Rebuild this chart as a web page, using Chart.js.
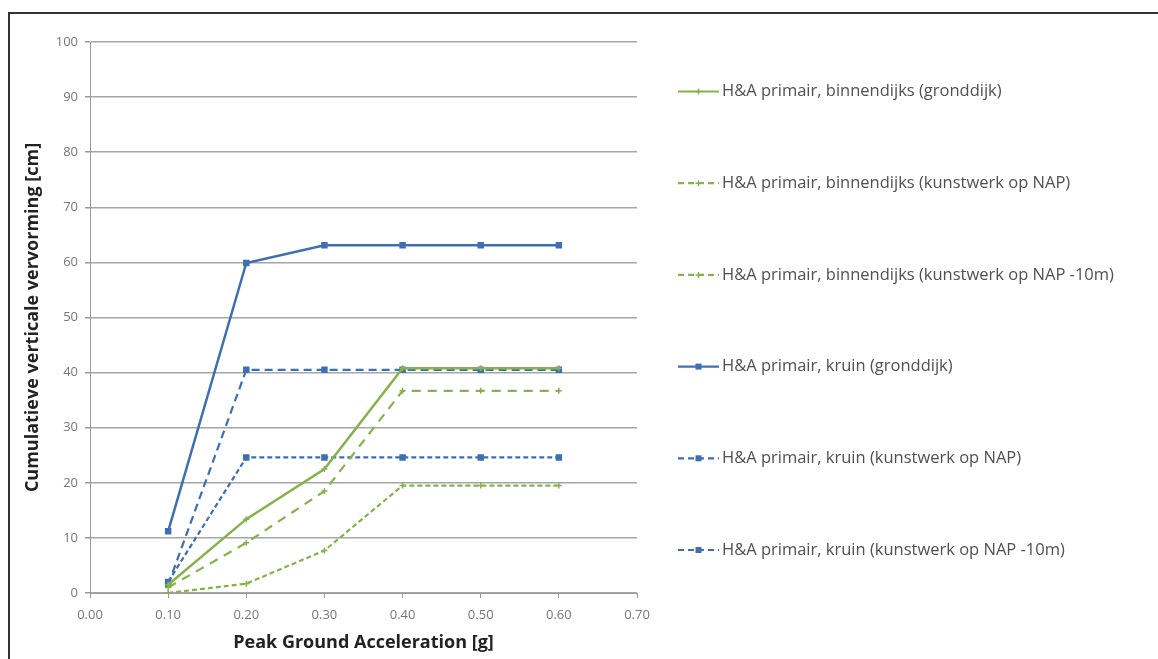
<!DOCTYPE html>
<html>
<head>
<meta charset="utf-8">
<script src="https://cdn.jsdelivr.net/npm/chart.js@4.4.1/dist/chart.umd.min.js"></script>
<style>
  html, body { margin: 0; padding: 0; background: #fff; }
  #wrap { position: relative; width: 1158px; height: 659px; overflow: hidden; }
  #frame { position: absolute; left: 8px; top: 12px; width: 1200px; height: 700px; border: 2px solid #333; box-sizing: border-box; }
  #cv { position: absolute; left: 0; top: 0; }
</style>
</head>
<body>
<div id="wrap">
  <div id="frame"></div>
  <canvas id="cv" width="1158" height="659"></canvas>
</div>
<script>
// data
const pga = [0.10, 0.20, 0.30, 0.40, 0.50, 0.60];
const binnenGronddijk = [1.5, 13.4, 22.5, 40.8, 40.8, 40.8];
const binnenNap = [1.0, 9.1, 18.5, 36.7, 36.7, 36.7];
const binnenNap10 = [0.0, 1.7, 7.7, 19.5, 19.5, 19.5];
const kruinGronddijk = [11.2, 59.9, 63.1, 63.1, 63.1, 63.1];
const kruinNap = [1.5, 40.5, 40.5, 40.5, 40.5, 40.5];
const kruinNap10 = [2.0, 24.6, 24.6, 24.6, 24.6, 24.6];
const seriesNames = [
    'H&A primair, binnendijks (gronddijk)',
    'H&A primair, binnendijks (kunstwerk op NAP)',
    'H&A primair, binnendijks (kunstwerk op NAP -10m)',
    'H&A primair, kruin (gronddijk)',
    'H&A primair, kruin (kunstwerk op NAP)',
    'H&A primair, kruin (kunstwerk op NAP -10m)'
];
const xTicks = [0.0, 0.1, 0.2, 0.3, 0.4, 0.5, 0.6, 0.7];
const yTicks = [0, 10, 20, 30, 40, 50, 60, 70, 80, 90, 100];

const green = '#86b24c';
const blue = '#3f6fb3';

function pts(vals) {
    return pga.map((x, i) => ({ x: x, y: vals[i] }));
}

function series(label, vals, color, dash, style, width) {
    return {
        label: label,
        data: pts(vals),
        borderColor: color,
        backgroundColor: color,
        borderWidth: width,
        borderDash: dash,
        pointStyle: style,
        pointRadius: style === 'rect' ? 3.5 : 3,
        pointBorderWidth: 1.5,
        pointBorderColor: color,
        tension: 0,
        fill: false
    };
}

const datasets = [
    series(seriesNames[0], binnenGronddijk, green, [], 'cross', 2.5),
    series(seriesNames[1], binnenNap, green, [9, 7], 'cross', 2.2),
    series(seriesNames[2], binnenNap10, green, [5, 3], 'cross', 2.2),
    series(seriesNames[3], kruinGronddijk, blue, [], 'rect', 2.5),
    series(seriesNames[4], kruinNap, blue, [8, 5], 'rect', 2.2),
    series(seriesNames[5], kruinNap10, blue, [5, 3], 'rect', 2.2)
];

// legend drawn on the right, spaced out like the original
const sideLegend = {
    id: 'sideLegend',
    afterDraw(chart) {
        const ctx = chart.ctx;
        ctx.save();
        chart.data.datasets.forEach((ds, i) => {
            const y = 91.5 + i * 91.7;
            const x0 = 678, x1 = 719;
            ctx.strokeStyle = ds.borderColor;
            ctx.lineWidth = 2.2;
            ctx.setLineDash(ds.borderDash.length ? [6, 4] : []);
            ctx.beginPath();
            ctx.moveTo(x0, y);
            ctx.lineTo(x1, y);
            ctx.stroke();
            ctx.setLineDash([]);
            ctx.fillStyle = ds.borderColor;
            ctx.strokeStyle = ds.borderColor;
            const mx = (x0 + x1) / 2;
            if (ds.pointStyle === 'rect') {
                ctx.fillRect(mx - 3, y - 3, 6, 6);
            } else {
                ctx.lineWidth = 1.5;
                ctx.beginPath();
                ctx.moveTo(mx - 3, y); ctx.lineTo(mx + 3, y);
                ctx.moveTo(mx, y - 3); ctx.lineTo(mx, y + 3);
                ctx.stroke();
            }
            ctx.fillStyle = '#505050';
            ctx.font = '16.5px "Open Sans"';
            ctx.textBaseline = 'middle';
            ctx.textAlign = 'left';
            ctx.fillText(ds.label, 722, y);
        });
        ctx.restore();
    }
};

const ctx = document.getElementById('cv').getContext('2d');
new Chart(ctx, {
    type: 'line',
    data: { datasets: datasets },
    options: {
        responsive: false,
        animation: false,
        layout: { padding: { left: 18, top: 42, right: 521, bottom: 0 } },
        plugins: { legend: { display: false }, tooltip: { enabled: false } },
        scales: {
            x: {
                type: 'linear',
                min: 0, max: 0.7,
                afterBuildTicks: s => { s.ticks = xTicks.map(v => ({ value: v })); },
                afterFit: s => { s.height = 66; },
                grid: { display: true, drawOnChartArea: false, tickLength: 5, color: '#999' },
                border: { color: '#999', width: 1 },
                ticks: {
                    color: '#777',
                    font: { family: 'Open Sans', size: 13 },
                    padding: 9,
                    maxRotation: 0,
                    callback: v => v.toFixed(2)
                },
                title: {
                    display: true,
                    text: 'Peak Ground Acceleration [g]',
                    color: '#222',
                    font: { family: 'Open Sans', size: 18, weight: 'bold' },
                    padding: { top: 2, bottom: 5 }
                }
            },
            y: {
                min: 0, max: 100,
                afterBuildTicks: s => { s.ticks = yTicks.map(v => ({ value: v })); },
                afterFit: s => { s.width = 72; },
                grid: { color: '#a6a6a6', lineWidth: 1.5, tickLength: 5, tickColor: '#999' },
                border: { color: '#999', width: 1 },
                ticks: {
                    color: '#777',
                    font: { family: 'Open Sans', size: 13 },
                    padding: 7
                },
                title: {
                    display: true,
                    text: 'Cumulatieve verticale vervorming [cm]',
                    color: '#222',
                    font: { family: 'Open Sans', size: 18, weight: 'bold' },
                    padding: { top: 4, bottom: 4 }
                }
            }
        }
    },
    plugins: [sideLegend]
});
</script>
</body>
</html>
